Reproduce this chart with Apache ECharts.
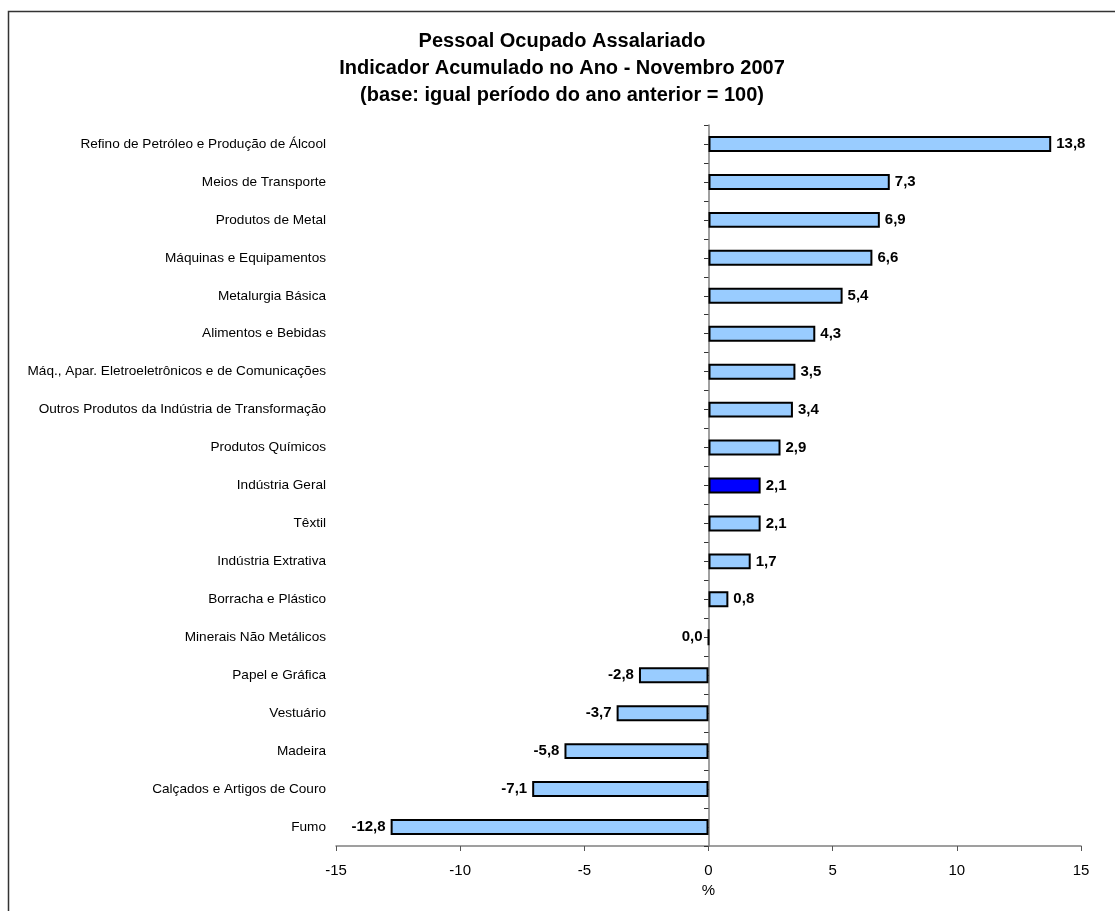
<!DOCTYPE html>
<html><head><meta charset="utf-8">
<script src="https://cdn.jsdelivr.net/npm/echarts@6/dist/echarts.min.js"></script>
<style>html,body{margin:0;padding:0;background:#fff}#c{width:1115px;height:911px}</style>
</head><body><div id="c"></div>
<script>
const categories = ["Refino de Petróleo e Produção de Álcool","Meios de Transporte","Produtos de Metal","Máquinas e Equipamentos","Metalurgia Básica","Alimentos e Bebidas","Máq., Apar. Eletroeletrônicos e de Comunicações","Outros Produtos da Indústria de Transformação","Produtos Químicos","Indústria Geral","Têxtil","Indústria Extrativa","Borracha e Plástico","Minerais Não Metálicos","Papel e Gráfica","Vestuário","Madeira","Calçados e Artigos de Couro","Fumo"];
const values = [13.8,7.3,6.9,6.6,5.4,4.3,3.5,3.4,2.9,2.1,2.1,1.7,0.8,0.0,-2.8,-3.7,-5.8,-7.1,-12.8];
const highlight = "Indústria Geral";
const xTicks = [-15,-10,-5,0,5,10,15];

const F = "'Liberation Sans', Arial, sans-serif";
const n = categories.length;
const chart = echarts.init(document.getElementById('c'));
chart.setOption({
  animation: false,
  backgroundColor: '#fff',
  graphic: [{type:'rect', shape:{x:8.5,y:11.5,width:1200,height:1000}, style:{fill:'none',stroke:'#333',lineWidth:1.5}, silent:true}],
  title: {
    text: 'Pessoal Ocupado Assalariado\nIndicador Acumulado no Ano - Novembro 2007\n(base: igual período do ano anterior = 100)',
    left: 557, top: 23, textAlign: 'center',
    textStyle: {fontFamily: F, fontSize: 20, fontWeight: 'bold', color: '#000', lineHeight: 27}
  },
  grid: {left: 336, right: 34, top: 125, bottom: 65},
  xAxis: {
    type: 'value', min: xTicks[0], max: xTicks[xTicks.length-1], interval: 5,
    splitLine: {show: false},
    axisLine: {show: true, onZero: false, lineStyle: {color: '#808080', width: 1.5}},
    axisTick: {show: true, length: 5, lineStyle: {color: '#555'}},
    axisLabel: {fontFamily: F, fontSize: 15, color: '#000', margin: 17},
    name: '%', nameLocation: 'middle', nameGap: 31,
    nameTextStyle: {fontFamily: F, fontSize: 15, color: '#000'}
  },
  yAxis: [{
    type: 'category', data: categories, inverse: true,
    axisLine: {show: false, onZero: false}, axisTick: {show: false},
    axisLabel: {fontFamily: F, fontSize: 13.6, color: '#000', margin: 10}
  }, {
    type: 'value', min: -0.5, max: n - 0.5, interval: 0.5, inverse: true, position: 'left',
    splitLine: {show: false},
    axisLine: {show: true, onZero: true, onZeroAxisIndex: 0, lineStyle: {color: '#808080', width: 1.5}},
    axisTick: {show: true, length: 4.5, lineStyle: {color: '#333'}},
    axisLabel: {show: false}
  }],
  series: [{
    type: 'bar', yAxisIndex: 0,
    barWidth: '42%',
    data: values.map((v, i) => ({
      value: v,
      itemStyle: {color: categories[i] === highlight ? '#0000FF' : '#99CCFF', borderColor: '#000', borderWidth: 2},
      label: {position: v <= 0 ? 'left' : 'right'}
    })),
    label: {
      show: true, distance: 5,
      fontFamily: F, fontSize: 15, fontWeight: 'bold', color: '#000',
      formatter: p => p.value.toFixed(1).replace('.', ',')
    }
  }]
});
</script></body></html>
